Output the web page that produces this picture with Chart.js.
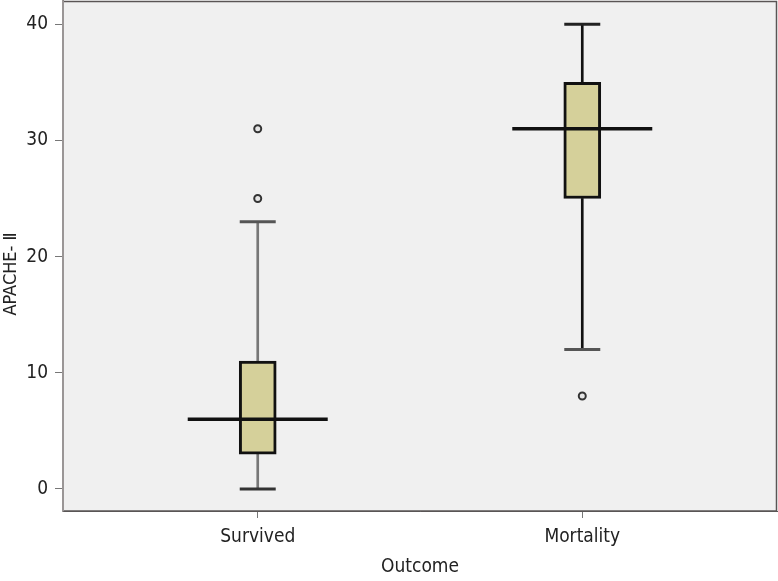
<!DOCTYPE html>
<html>
<head>
<meta charset="utf-8">
<script src="https://cdn.jsdelivr.net/npm/chart.js@4/dist/chart.umd.min.js"></script>
<style>
  html, body { margin: 0; padding: 0; background: #ffffff; }
  #wrap { width: 778px; height: 581px; position: relative; }
</style>
</head>
<body>
<div id="wrap"><canvas id="c" width="778" height="581"></canvas></div>
<script>
// ---- data ----
const categories = ['Survived', 'Mortality'];
const whiskerLow = [0, 12];
const q1 = [3, 25];
const medians = [6, 31];
const q3 = [11, 35];
const whiskerHigh = [23, 40];
const outliers = [[25, 31], [8]];
const yTicks = [0, 10, 20, 30, 40];
const xTitle = 'Outcome';
const yTitle = 'APACHE- \u2161';

// ---- derived datasets ----
const xs = categories.map((_, i) => i + 1);
const boxData = xs.map((x, i) => ({ x: x, y: [q1[i], q3[i]] }));
const lowWhisker = xs.map((x, i) => ({ x: x, y: [whiskerLow[i], q1[i]] }));
const highWhisker = xs.map((x, i) => ({ x: x, y: [q3[i], whiskerHigh[i]] }));
const medianPts = xs.map((x, i) => ({ x: x, y: medians[i] }));
const capLowPts = xs.map((x, i) => ({ x: x, y: whiskerLow[i] }));
const capHighPts = xs.map((x, i) => ({ x: x, y: whiskerHigh[i] }));
const outlierPts = [];
outliers.forEach((arr, i) => arr.forEach(v => outlierPts.push({ x: xs[i], y: v })));

const FONT = "'DejaVu Sans Condensed', 'DejaVu Sans', Tahoma, sans-serif";

const framePlugin = {
  id: 'frame',
  beforeDatasetsDraw(chart) {
    const a = chart.chartArea, ctx = chart.ctx;
    ctx.save();
    ctx.fillStyle = '#f0f0f0';
    ctx.fillRect(a.left, a.top, a.right - a.left, a.bottom - a.top);
    ctx.restore();
  },
  afterDraw(chart) {
    const a = chart.chartArea, ctx = chart.ctx;
    ctx.save();
    ctx.strokeStyle = '#5a5555';
    ctx.lineWidth = 1.5;
    ctx.beginPath();
    ctx.moveTo(a.left, a.top + 0.5);
    ctx.lineTo(a.right - 0.5, a.top + 0.5);
    ctx.lineTo(a.right - 0.5, a.bottom);
    ctx.lineTo(a.left, a.bottom);
    ctx.stroke();
    ctx.strokeStyle = '#9a9696';
    ctx.lineWidth = 2;
    ctx.beginPath();
    ctx.moveTo(a.left, a.top);
    ctx.lineTo(a.left, a.bottom);
    ctx.stroke();
    // y-axis title (placed slightly below the axis centre, as in the reference)
    const ys = chart.scales.y;
    ctx.translate(11, (ys.top + ys.bottom) / 2 + 18);
    ctx.rotate(-Math.PI / 2);
    ctx.fillStyle = '#222222';
    ctx.font = "18px " + FONT;
    ctx.textAlign = 'center';
    ctx.textBaseline = 'middle';
    ctx.fillText(yTitle, 0, 0);
    ctx.restore();
  }
};

new Chart(document.getElementById('c'), {
  type: 'bar',
  data: {
    datasets: [
      {
        type: 'bar', data: lowWhisker, grouped: false, order: 5,
        barThickness: 2, backgroundColor: ['#777777', '#111111'], borderWidth: 0
      },
      {
        type: 'bar', data: highWhisker, grouped: false, order: 5,
        barThickness: 2, backgroundColor: ['#777777', '#111111'], borderWidth: 0
      },
      {
        type: 'bar', data: boxData, grouped: false, order: 4,
        barThickness: 37, backgroundColor: '#d5d09a', borderColor: '#111111',
        borderWidth: 3, borderSkipped: false
      },
      {
        type: 'line', data: medianPts, showLine: false, order: 2,
        pointStyle: 'line', pointRadius: 70, pointBorderWidth: 3.5,
        pointBorderColor: '#111111', pointBackgroundColor: '#111111'
      },
      {
        type: 'line', data: capLowPts, showLine: false, order: 2,
        pointStyle: 'line', pointRadius: 18, pointBorderWidth: 3,
        pointBorderColor: ['#333333', '#555555']
      },
      {
        type: 'line', data: capHighPts, showLine: false, order: 2,
        pointStyle: 'line', pointRadius: 18, pointBorderWidth: 3,
        pointBorderColor: ['#555555', '#222222']
      },
      {
        type: 'line', data: outlierPts, showLine: false, order: 1,
        pointStyle: 'circle', pointRadius: 3.5, pointBorderWidth: 2,
        pointBorderColor: '#333333', pointBackgroundColor: '#e6e6e6'
      }
    ]
  },
  options: {
    responsive: false,
    animation: false,
    devicePixelRatio: 1,
    layout: { autoPadding: false, padding: { top: 1, right: 1, left: 0, bottom: 0 } },
    plugins: { legend: { display: false }, tooltip: { enabled: false } },
    scales: {
      x: {
        type: 'linear', min: 0.4, max: 2.6, offset: false,
        afterBuildTicks: s => { s.ticks = xs.map(v => ({ value: v })); },
        afterFit: s => { s.height = 70; s.paddingLeft = 0; s.paddingRight = 0; },
        ticks: {
          callback: v => categories[Math.round(v) - 1] || '',
          color: '#222222', font: { family: FONT, size: 19 }, padding: 8,
          maxRotation: 0, autoSkip: false
        },
        grid: { offset: false, drawOnChartArea: false, drawTicks: true, tickLength: 7, color: '#777777' },
        border: { display: true, color: '#5a5555', width: 1 },
        title: {
          display: true, text: xTitle, color: '#222222',
          font: { family: FONT, size: 19 }, padding: { top: 0, bottom: 3 }
        }
      },
      y: {
        type: 'linear', min: -1.9, max: 42.0,
        afterBuildTicks: s => { s.ticks = yTicks.map(v => ({ value: v })); },
        afterFit: s => { s.width = 63; s.paddingTop = 0; s.paddingBottom = 0; },
        ticks: {
          color: '#222222', font: { family: FONT, size: 19 }, padding: 7
        },
        grid: { drawOnChartArea: false, drawTicks: true, tickLength: 8, color: '#777777' },
        border: { display: true, color: '#9a9696', width: 2 },
        title: { display: false }
      }
    }
  },
  plugins: [framePlugin]
});
</script>
</body>
</html>
